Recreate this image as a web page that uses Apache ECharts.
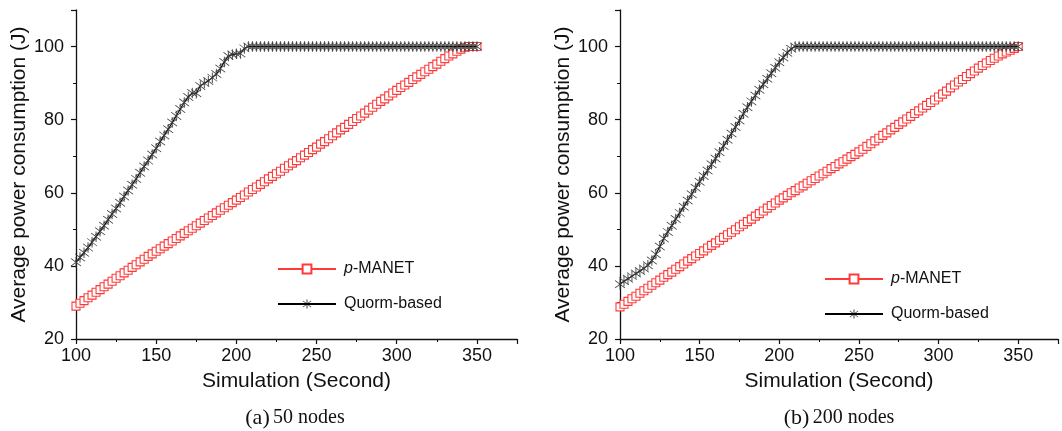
<!DOCTYPE html>
<html>
<head>
<meta charset="utf-8">
<script src="https://cdn.jsdelivr.net/npm/echarts@6/dist/echarts.min.js"></script>
<style>html,body{margin:0;padding:0;background:#fff}#c{width:1062px;height:431px}</style>
</head>
<body>
<div id="c"></div>
<script>
const seconds = [100,102.5,105,107.5,110,112.5,115,117.5,120,122.5,125,127.5,130,132.5,135,137.5,140,142.5,145,147.5,150,152.5,155,157.5,160,162.5,165,167.5,170,172.5,175,177.5,180,182.5,185,187.5,190,192.5,195,197.5,200,202.5,205,207.5,210,212.5,215,217.5,220,222.5,225,227.5,230,232.5,235,237.5,240,242.5,245,247.5,250,252.5,255,257.5,260,262.5,265,267.5,270,272.5,275,277.5,280,282.5,285,287.5,290,292.5,295,297.5,300,302.5,305,307.5,310,312.5,315,317.5,320,322.5,325,327.5,330,332.5,335,337.5,340,342.5,345,347.5,350];

const pmanet50 = [29.0,29.8,30.5,31.3,32.0,32.8,33.5,34.3,35.0,35.8,
36.6,37.3,38.1,38.8,39.6,40.3,41.1,41.8,42.6,43.3,
44.0,44.7,45.4,46.1,46.8,47.5,48.2,48.9,49.6,50.3,
51.0,51.7,52.4,53.1,53.8,54.5,55.2,55.9,56.6,57.3,
58.0,58.7,59.4,60.2,60.9,61.6,62.3,63.0,63.8,64.5,
65.2,65.9,66.7,67.4,68.1,68.8,69.6,70.3,71.0,71.8,
72.5,73.3,74.0,74.8,75.6,76.4,77.2,77.9,78.7,79.5,
80.3,81.0,81.8,82.6,83.4,84.2,85.0,85.7,86.5,87.3,
88.0,88.8,89.5,90.2,91.0,91.7,92.4,93.1,93.8,94.5,
95.2,96.0,96.7,97.4,98.0,98.7,99.3,99.8,100,100,
100];

const quorum50 = [41.0,42.3,43.6,45.0,46.5,48.0,49.5,51.0,52.6,54.2,
55.7,57.3,59.0,60.6,62.2,63.8,65.5,67.2,68.8,70.5,
72.2,74.0,75.7,77.4,79.2,81.0,82.9,84.7,86.2,87.3,
87.2,89.2,90.0,90.6,91.5,92.5,94.0,95.8,97.4,97.8,
98.0,98.1,99.5,100,100,100,100,100,100,100,
100,100,100,100,100,100,100,100,100,100,
100,100,100,100,100,100,100,100,100,100,
100,100,100,100,100,100,100,100,100,100,
100,100,100,100,100,100,100,100,100,100,
100,100,100,100,100,100,100,100,100,100,
100];

const pmanet200 = [28.8,29.5,30.3,31.0,31.7,32.5,33.2,33.9,34.7,35.4,
36.1,36.9,37.6,38.3,39.1,39.8,40.5,41.3,42.0,42.7,
43.4,44.1,44.9,45.6,46.3,47.0,47.8,48.5,49.2,49.9,
50.7,51.4,52.1,52.8,53.6,54.3,55.0,55.8,56.5,57.2,
58.0,58.6,59.3,60.0,60.6,61.3,61.9,62.6,63.3,63.9,
64.6,65.2,65.9,66.6,67.2,67.9,68.5,69.2,69.9,70.5,
71.2,71.9,72.7,73.4,74.2,74.9,75.7,76.4,77.2,77.9,
78.7,79.4,80.2,80.9,81.7,82.4,83.2,83.9,84.7,85.4,
86.2,87.0,87.8,88.7,89.5,90.3,91.0,91.8,92.6,93.3,
94.1,94.8,95.5,96.2,96.8,97.4,98.0,98.5,99.0,99.5,
100];

const quorum200 = [35.0,35.8,36.5,37.2,37.9,38.6,39.3,40.2,41.5,43.2,
45.3,47.5,49.3,51.0,52.8,54.5,56.2,57.9,59.6,61.4,
63.0,64.6,66.1,67.8,69.4,71.1,72.8,74.5,76.2,78.0,
79.8,81.6,83.4,85.0,86.6,88.2,89.7,91.2,92.7,94.2,
95.7,97.0,98.3,99.4,100,100,100,100,100,100,
100,100,100,100,100,100,100,100,100,100,
100,100,100,100,100,100,100,100,100,100,
100,100,100,100,100,100,100,100,100,100,
100,100,100,100,100,100,100,100,100,100,
100,100,100,100,100,100,100,100,100,100,
100];

const seriesNames = ['p-MANET', 'Quorm-based'];
const captionLetters = ['(a)', '(b)'];
const captionTexts = ['50 nodes', '200 nodes'];
const xAxisName = 'Simulation (Second)';
const yAxisName = 'Average power consumption (J)';

const STAR = 'path://M9.35,0h1.3v20h-1.3z M2.4,3.3l0.9,-0.9l14.3,14.3l-0.9,0.9z M17.6,3.3l-0.9,-0.9l-14.3,14.3l0.9,0.9z';
const RED = '#ff3a3a';
const FONT = '"Liberation Sans", Arial, sans-serif';
const SERIF = '"Liberation Serif", "Times New Roman", serif';

function pairs(ys) { return seconds.map((x, i) => [x, ys[i]]); }

function xAx(gi) {
  return {
    type: 'value', gridIndex: gi, min: 100, max: 375, interval: 50,
    name: xAxisName, nameLocation: 'middle', nameGap: 32,
    nameTextStyle: { fontFamily: FONT, fontSize: 21, color: '#111' },
    axisLine: { show: true, lineStyle: { color: '#111', width: 1.3 } },
    axisTick: { show: true, inside: false, length: 5, lineStyle: { color: '#111', width: 1.2 } },
    minorTick: { show: true, splitNumber: 2, length: 3, lineStyle: { color: '#111', width: 1 } },
    axisLabel: { fontFamily: FONT, fontSize: 18, color: '#111', margin: 8, showMaxLabel: false },
    splitLine: { show: false }, minorSplitLine: { show: false }
  };
}
function yAx(gi) {
  return {
    type: 'value', gridIndex: gi, min: 20, max: 110, interval: 20,
    name: yAxisName, nameLocation: 'middle', nameGap: 46,
    nameTextStyle: { fontFamily: FONT, fontSize: 21, color: '#111' },
    axisLine: { show: true, lineStyle: { color: '#111', width: 1.3 } },
    axisTick: { show: true, inside: false, length: 5, lineStyle: { color: '#111', width: 1.2 } },
    minorTick: { show: true, splitNumber: 2, length: 3, lineStyle: { color: '#111', width: 1 } },
    axisLabel: { fontFamily: FONT, fontSize: 18, color: '#111', margin: 12, showMaxLabel: false },
    splitLine: { show: false }, minorSplitLine: { show: false }
  };
}
function redSeries(gi, ys) {
  return {
    name: seriesNames[0], type: 'line', xAxisIndex: gi, yAxisIndex: gi,
    data: pairs(ys), symbol: 'rect', symbolSize: 8, showAllSymbol: true,
    lineStyle: { color: RED, width: 1 },
    itemStyle: { color: '#fff', borderColor: RED, borderWidth: 1.1 },
    animation: false, z: 2
  };
}
function blackSeries(gi, ys) {
  return {
    name: seriesNames[1], type: 'line', xAxisIndex: gi, yAxisIndex: gi,
    data: pairs(ys), symbol: STAR, symbolSize: 10.5, showAllSymbol: true,
    lineStyle: { color: '#000', width: 1.1 },
    itemStyle: { color: '#3a3a3a', borderWidth: 0 },
    animation: false, z: 3
  };
}
function legendAt(left, top) {
  return {
    left: left, top: top, padding: 0, orient: 'vertical', itemWidth: 58, itemHeight: 11, itemGap: 19,
    data: [
      { name: seriesNames[0] },
      { name: seriesNames[1], itemStyle: { color: '#000' } }
    ],
    selectedMode: false,
    formatter: function (n) { return n === 'p-MANET' ? '{i|p}{t|-MANET}' : '{t|' + n + '}'; },
    textStyle: {
      fontFamily: FONT, fontSize: 16, color: '#111', padding: [0, 0, 0, 3],
      rich: {
        i: { fontFamily: FONT, fontSize: 16, fontStyle: 'italic', color: '#111' },
        t: { fontFamily: FONT, fontSize: 16, color: '#111' }
      }
    }
  };
}
function caption(cx, i) {
  return {
    type: 'text', x: cx, y: 418,
    style: {
      text: '{a|' + captionLetters[i] + '} {b|' + captionTexts[i] + '}',
      align: 'center', verticalAlign: 'middle',
      rich: {
        a: { fontFamily: SERIF, fontSize: 22, fill: '#111' },
        b: { fontFamily: SERIF, fontSize: 20, fill: '#111' }
      }
    }
  };
}

const chart = echarts.init(document.getElementById('c'), null, { renderer: 'canvas' });
chart.setOption({
  backgroundColor: '#fff',
  animation: false,
  grid: [
    { left: 76, top: 10, width: 441, height: 329 },
    { left: 620, top: 10, width: 438, height: 329 }
  ],
  xAxis: [xAx(0), xAx(1)],
  yAxis: [yAx(0), yAx(1)],
  legend: [legendAt(277, 261), legendAt(824, 271)],
  series: [
    redSeries(0, pmanet50), blackSeries(0, quorum50),
    redSeries(1, pmanet200), blackSeries(1, quorum200)
  ],
  graphic: [caption(295, 0), caption(839, 1)]
});
</script>
</body>
</html>
